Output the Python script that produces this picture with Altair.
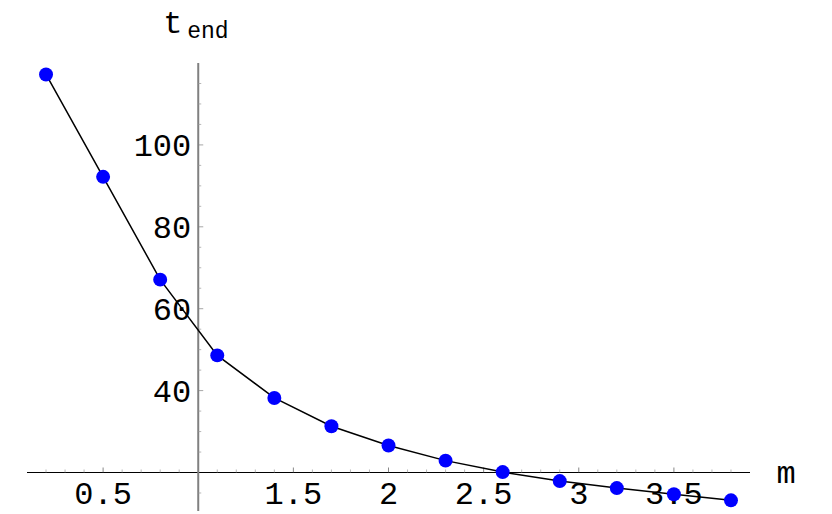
import altair as alt
import pandas as pd

# ---- data ----
m_values = [0.2, 0.5, 0.8, 1.1, 1.4, 1.7, 2.0, 2.3, 2.6, 2.9, 3.2, 3.5, 3.8]
t_end_values = [117.2, 92.2, 67.1, 48.6, 38.2, 31.3, 26.6, 22.9, 20.1, 17.9, 16.2, 14.7, 13.2]

x_domain = [0.1, 3.9]
y_domain = [10.6, 120]
x_cross = 1.0     # where the vertical axis sits
y_cross = 20.0    # where the horizontal axis sits

x_major_ticks = [0.5, 1.5, 2, 2.5, 3, 3.5]
x_major_labels = ["0.5", "1.5", "2", "2.5", "3", "3.5"]
x_minor_ticks = [round(0.2 + 0.1 * i, 1) for i in range(37)]
y_major_ticks = [40, 60, 80, 100]
y_major_labels = ["40", "60", "80", "100"]
y_minor_ticks = [15, 25, 30, 35, 45, 50, 55, 65, 70, 75, 85, 90, 95, 105, 110, 115]

FONT = "Liberation Mono"

pts = pd.DataFrame({"m": m_values, "t": t_end_values})
xs = alt.Scale(domain=x_domain, nice=False, zero=False)
ys = alt.Scale(domain=y_domain, nice=False, zero=False)
X = lambda f: alt.X(f, type="quantitative", scale=xs, axis=None)
Y = lambda f: alt.Y(f, type="quantitative", scale=ys, axis=None)

x_axis = alt.Chart(pd.DataFrame({"x0": [x_domain[0]], "x1": [x_domain[1]], "y": [y_cross]})).mark_rule(
    color="black", strokeWidth=1.2).encode(x=X("x0"), x2="x1", y=Y("y"))
y_axis = alt.Chart(pd.DataFrame({"y0": [y_domain[0]], "y1": [y_domain[1]], "x": [x_cross]})).mark_rule(
    color="#808080", strokeWidth=2).encode(y=Y("y0"), y2="y1", x=X("x"))

xminor_df = pd.DataFrame({"x": [v for v in x_minor_ticks if abs(v - x_cross) > 1e-9 and v not in x_major_ticks], "y": y_cross})
xmajor_df = pd.DataFrame({"x": x_major_ticks, "y": y_cross, "lab": x_major_labels})
yminor_df = pd.DataFrame({"y": y_minor_ticks, "x": x_cross})
ymajor_df = pd.DataFrame({"y": y_major_ticks, "x": x_cross, "lab": y_major_labels})

x_minor = alt.Chart(xminor_df).mark_tick(orient="vertical", size=3, thickness=1, yOffset=-1.5,
                                         color="#999999").encode(x=X("x"), y=Y("y"))
x_major = alt.Chart(xmajor_df).mark_tick(orient="vertical", size=5, thickness=1, yOffset=-2.5,
                                         color="#555555").encode(x=X("x"), y=Y("y"))
y_minor = alt.Chart(yminor_df).mark_tick(orient="horizontal", size=3, thickness=1, xOffset=1.5,
                                         color="#999999").encode(x=X("x"), y=Y("y"))
y_major = alt.Chart(ymajor_df).mark_tick(orient="horizontal", size=5, thickness=1, xOffset=2.5,
                                         color="#808080").encode(x=X("x"), y=Y("y"))

x_labels = alt.Chart(xmajor_df).mark_text(font=FONT, fontSize=32, baseline="alphabetic", align="center",
                                          dy=31, color="black").encode(x=X("x"), y=Y("y"), text="lab:N")
y_labels = alt.Chart(ymajor_df).mark_text(font=FONT, fontSize=32, baseline="middle", align="right",
                                          dx=-7, dy=1, color="black").encode(x=X("x"), y=Y("y"), text="lab:N")

ttl = pd.DataFrame({"x": [x_cross], "y": [y_domain[1]], "t": ["t"], "sub": ["end"]})
t_main = alt.Chart(ttl).mark_text(font=FONT, fontSize=32, align="left", baseline="alphabetic",
                                  dx=-35, dy=-30, color="black").encode(x=X("x"), y=Y("y"), text="t:N")
t_sub = alt.Chart(ttl).mark_text(font=FONT, fontSize=23, align="left", baseline="alphabetic",
                                 dx=-11, dy=-25, color="black").encode(x=X("x"), y=Y("y"), text="sub:N")
mlab = pd.DataFrame({"x": [x_domain[1]], "y": [y_cross], "t": ["m"]})
m_label = alt.Chart(mlab).mark_text(font=FONT, fontSize=32, align="center", baseline="alphabetic",
                                    dx=36, dy=10, color="black").encode(x=X("x"), y=Y("y"), text="t:N")

line = alt.Chart(pts).mark_line(color="black", strokeWidth=1.5).encode(x=X("m"), y=Y("t"))
dots = alt.Chart(pts).mark_point(filled=True, color="#0000FF", opacity=1, size=195).encode(x=X("m"), y=Y("t"))

chart = alt.layer(x_axis, y_axis, x_minor, x_major, y_minor, y_major, x_labels, y_labels,
                  t_main, t_sub, m_label, line, dots).properties(
    width=723, height=448,
    padding={"left": 19, "top": 55, "right": 74, "bottom": 3},
    autosize=alt.AutoSizeParams(type="none"),
).configure_view(stroke=None)

chart.save("out.html", embed_options={"renderer": "svg", "actions": False})
